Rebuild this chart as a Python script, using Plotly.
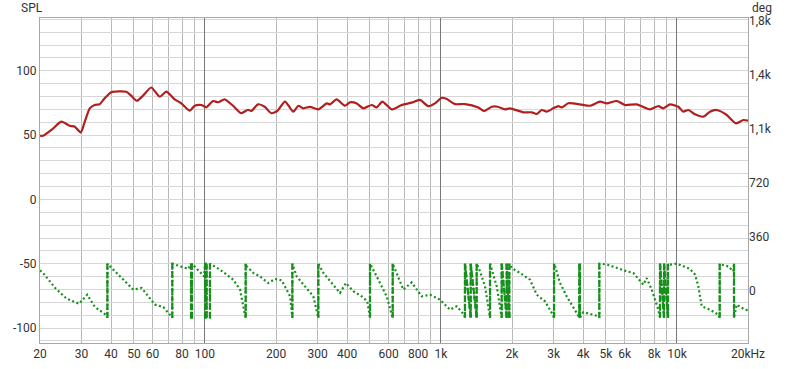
import plotly.graph_objects as go

# ---------------- data ----------------
spl_freq = [20, 20.6, 22.7, 24.6, 26.7, 28.1, 29.8, 30.9, 32.5, 34.1, 35.8, 37.6, 40.1, 46.4, 48.7,
            51.5, 54.6, 59.2, 64.3, 68.6, 74.4, 79.4, 86.2, 90.5, 96.5, 101.3, 108.2, 113.6, 121.2,
            131.5, 142.6, 152.2, 157.1, 167.8, 179.2, 191, 202.5, 218.4, 236.8, 248.6, 261, 278.8,
            302.2, 328, 338.8, 361.6, 392.2, 411.8, 439.6, 468.8, 508.8, 534.2, 564.2, 618.6, 681.8,
            751.6, 815, 883.8, 943.6, 1007, 1058, 1147, 1264, 1439, 1526, 1641, 1740, 1868, 1961,
            2234, 2424, 2546, 2672, 2806, 2992, 3142, 3248, 3464, 3882, 4282, 4720, 5038, 5554,
            6024, 6754, 7686, 8338, 8754, 9344, 10134, 10638, 11170, 11926, 12932, 13804, 14740,
            16248, 17794, 19106, 20000]
spl_db = [49.5, 49.5, 55, 60.4, 57.3, 56.5, 52, 60, 70.8, 73.4, 74, 78.6, 83.3, 83.7, 80.6,
          76.7, 80.6, 87, 79.8, 83.7, 77.8, 74.7, 69, 72.8, 73.4, 71.6, 76.5, 75.5, 77.8,
          72.8, 67, 69.7, 68.7, 73.9, 72, 67, 68.7, 76, 68.2, 72.8, 70.8, 72,
          70, 74.6, 73.9, 77.7, 72.8, 75.5, 74.6, 70.8, 73.4, 71.5, 76, 70, 73.4,
          75.2, 77.3, 72.5, 74.6, 79, 78, 74.1, 74.1, 71.5, 68.7, 72, 72, 70, 70.8,
          67.7, 67.7, 66.4, 69.5, 68.2, 70.8, 72.5, 71.5, 74.7, 73.9, 72.8, 76, 74.6, 76.5,
          73.4, 73.9, 70, 72.5, 70.8, 73.9, 72, 68.2, 69.5, 66.1, 64.3, 68.2, 69.5,
          65.6, 59.1, 61.7, 61.2]

phase_freq = [20, 20.5, 23.2, 25.9, 29.3, 31.7, 34.2, 38.3, 38.6, 38.6, 39.6, 49.7, 53.9, 61.4, 66.6,
              71.6, 72.7, 72.7, 85.0, 87.3, 87.3, 88.1, 88.1, 99.1, 100.1, 100.1, 100.8, 100.8,
              101.7, 101.7, 105.0, 105.0, 106.8, 115.8, 131.9, 140.8, 147.8, 148.8, 148.8, 150.3,
              160.3, 171.1, 185.5, 198.1, 211.4, 229.4, 234.6, 234.6, 244.8, 269.8, 287.8, 302.2,
              302.2, 317.4, 344.4, 373.4, 396, 425.2, 461.6, 487.4, 500.4, 500.4, 534.2, 589,
              618.6, 624.6, 624.6, 649.4, 692.6, 751.6, 828.8, 898.6, 991, 1092, 1166, 1252,
              1264, 1264, 1337, 1337, 1417, 1417, 1464, 1537, 1614, 1614, 1723, 1791, 1809, 1809,
              1899, 1899, 1948, 1948, 1994, 2162, 2384, 2546, 2760, 2976, 3014, 3014, 3044, 3194,
              3410, 3760, 3856, 3856, 3882, 3882, 4010, 4282, 4642, 4688, 4688, 5038, 5554, 6124,
              6532, 7202, 7446, 7816, 8338, 8476, 8476, 8816, 8816, 9162, 9162, 9344, 9976, 10712,
              11358, 11926, 12316, 12730, 13804, 14972, 15176, 15176, 15476, 16506, 17330, 17450,
              17450, 17914, 19424, 20000]
phase_deg = [135, 122, 18, -53, -87, -27, -109, -164, -180, 180, 162, 7, 18, -93, -109,
             -164, -180, 180, 145, 180, -180, -180, 180, 95, 180, -180, -180, 180,
             180, -180, -180, 180, 173, 140, 73, 7, -164, -180, 180, 162,
             118, 95, 51, 78, 69, -38, -180, 180, 95, 18, -38, -180,
             180, 118, 51, -15, 51, -4, -38, -71, -180, 180, 95, -38,
             -160, -180, 180, 118, 7, 55, -38, -27, -60, -127, -104, -160,
             -180, 180, -180, 180, -180, 180, 129, 29, -180, 180, 29, -138, -180, 180,
             -180, 180, -180, 180, 151, 118, 73, -27, -71, -160, -180, 180, 162, 51,
             -38, -149, -180, 180, 180, -180, -144, -155, -170, -180, 180, 175, 151, 129,
             118, 40, 84, 7, -127, -180, 180, -180, 180, -180, 180, 173, 180, 162,
             145, 107, 29, -104, -127, -160, -180, 180, 173, 162, 129, 180,
             -180, -93, -127, -130]

x_ticks = [20, 30, 40, 50, 60, 70, 80, 90, 100, 200, 300, 400, 500, 600, 700, 800, 900, 1000,
           2000, 3000, 4000, 5000, 6000, 7000, 8000, 9000, 10000, 20000]
x_labels = ["20", "30", "40", "50", "60", "", "80", "", "100", "200", "300", "400", "", "600", "",
            "800", "", "1k", "2k", "3k", "4k", "5k", "6k", "", "8k", "", "10k", "20kHz"]
decades = [100, 1000, 10000]
spl_ticks = list(range(-110, 141, 10))
spl_labels = [str(v) if v % 50 == 0 else "" for v in spl_ticks]
deg_ticks = [0, 360, 720, 1080, 1440, 1800]
deg_labels = ["0", "360", "720", "1,1k", "1,4k", "1,8k"]

# wrap segments (big jumps) drawn dashed
wrap_f, wrap_p = [], []
for i in range(len(phase_deg) - 1):
    if abs(phase_deg[i + 1] - phase_deg[i]) > 250:
        wrap_f += [phase_freq[i], phase_freq[i + 1], None]
        wrap_p += [phase_deg[i], phase_deg[i + 1], None]

RED = "#b21e1e"
GREEN = "#15901a"

fig = go.Figure()
fig.add_trace(go.Scatter(x=phase_freq, y=phase_deg, mode="lines", yaxis="y2",
                         line=dict(color=GREEN, width=2.2, dash="2px,2.5px"), hoverinfo="skip"))
fig.add_trace(go.Scatter(x=wrap_f, y=wrap_p, mode="lines", yaxis="y2",
                         line=dict(color=GREEN, width=2.2, dash="6px,2px"), hoverinfo="skip"))
fig.add_trace(go.Scatter(x=spl_freq, y=spl_db, mode="lines",
                         line=dict(color=RED, width=2.2, shape="spline", smoothing=0.6),
                         hoverinfo="skip"))
# invisible trace to activate decade-grid axis
fig.add_trace(go.Scatter(x=[20, 20000], y=[0, 0], xaxis="x2", mode="lines",
                         line=dict(width=0), showlegend=False, hoverinfo="skip"))

FONT = dict(family="Roboto, Open Sans, sans-serif", size=12, color="#333333")
xr = [1.30103, 4.30103]

fig.update_layout(
    width=800, height=369,
    margin=dict(l=40, r=52, t=18, b=26, autoexpand=False),
    paper_bgcolor="white", plot_bgcolor="white",
    showlegend=False,
    font=FONT,
    xaxis=dict(type="log", range=xr, tickvals=x_ticks, ticktext=x_labels, tickangle=0,
               automargin=False,
               showgrid=True, gridcolor="#b8b8b8", gridwidth=1,
               showline=True, linecolor="#a8a8a8", mirror=True, ticks="",
               zeroline=False, tickfont=FONT),
    xaxis2=dict(type="log", range=xr, overlaying="x", tickvals=decades, automargin=False,
                showticklabels=False, showgrid=True, gridcolor="#777777", gridwidth=1,
                ticks="", zeroline=False, showline=False),
    yaxis=dict(range=[-111.6, 141], tickvals=spl_ticks, ticktext=spl_labels, automargin=False,
               showgrid=True, gridcolor="#d6d6d6", gridwidth=1, zeroline=False,
               showline=True, linecolor="#a8a8a8", mirror=True, ticks="", tickfont=FONT),
    yaxis2=dict(range=[-349, 1818], overlaying="y", side="right", tickvals=deg_ticks,
                ticktext=deg_labels, showgrid=False, zeroline=False, ticks="", automargin=False,
                tickfont=FONT),
    annotations=[
        dict(text="SPL", x=0, y=1, xref="paper", yref="paper", xanchor="left", yanchor="bottom",
             xshift=-21, yshift=1, showarrow=False, font=FONT),
        dict(text="deg", x=1, y=1, xref="paper", yref="paper", xanchor="left", yanchor="bottom",
             xshift=2, yshift=1, showarrow=False, font=FONT),
    ],
)

# remove the default page margin so the figure sits at the window's top-left corner
fig.write_html("out.html", config={"displayModeBar": False},
               post_script="document.body.style.margin='0';")
